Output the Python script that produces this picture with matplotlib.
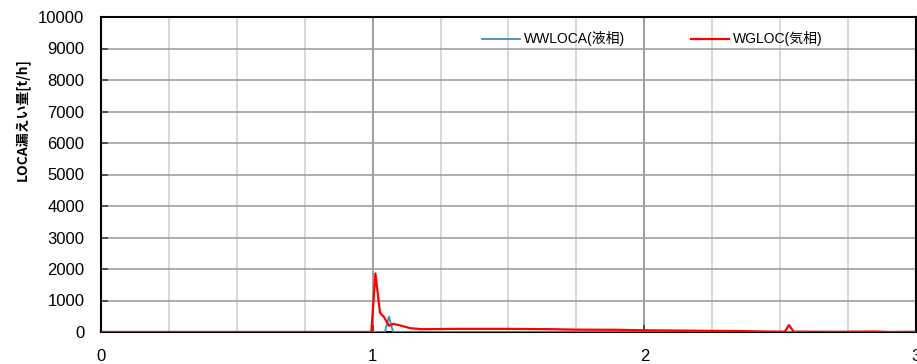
import matplotlib
matplotlib.use('Agg')
import matplotlib.pyplot as plt
from matplotlib.ticker import MultipleLocator

# --- 漏えい量データ [t/h] ---
t_gas = [0.0, 0.995, 1.01, 1.027, 1.042, 1.06, 1.076, 1.10, 1.14, 1.18, 1.30,
         1.50, 1.65, 1.75, 1.90, 2.00, 2.20, 2.35, 2.45, 2.517, 2.532, 2.55,
         2.70, 2.85, 2.90, 3.00]
w_gas = [0, 0, 1860, 610, 470, 200, 260, 210, 120, 90, 100,
         100, 90, 75, 70, 55, 40, 30, 15, 10, 220, 10,
         5, 15, 0, 5]

t_liq = [0.0, 1.045, 1.06, 1.075, 3.0]
w_liq = [0, 0, 490, 0, 0]

x_ticks = [0, 1, 2, 3]
y_max = 10000

plt.rcParams['font.family'] = ['Liberation Sans', 'Noto Sans CJK JP', 'DejaVu Sans']

fig = plt.figure(figsize=(9.17, 3.64), dpi=100)
ax = fig.add_axes([101 / 917, 1 - 332 / 364, 815 / 917, 315 / 364])

ax.plot(t_liq, w_liq, color='#3d8fb5', lw=1.3, label='WWLOCA(液相)', zorder=3)
ax.plot(t_gas, w_gas, color='#ff0000', lw=1.6, label='WGLOC(気相)', zorder=4)

ax.set_xlim(0, 3)
ax.set_ylim(0, y_max)
ax.set_xticks(x_ticks)
ax.xaxis.set_minor_locator(MultipleLocator(0.25))
ax.yaxis.set_major_locator(MultipleLocator(1000))

# 目盛線
ax.grid(True, which='major', axis='y', color='#a0a0a0', lw=1.2, zorder=1)
ax.grid(True, which='minor', axis='x', color='#d2d2d2', lw=1.2, zorder=1)
ax.grid(True, which='major', axis='x', color='#8c8c8c', lw=1.2, zorder=1)

ax.tick_params(axis='both', which='major', direction='in', length=5,
               width=1.2, color='#404040', labelsize=12, pad=12)
ax.tick_params(axis='x', which='minor', length=0)
for spine in ax.spines.values():
    spine.set_edgecolor('black')
    spine.set_linewidth(1.5)

ax.set_ylabel('LOCA漏えい量[t/h]', fontsize=10, fontweight='bold',
              family=['Noto Sans CJK JP', 'DejaVu Sans'], va='center')
ax.yaxis.set_label_coords(-0.096, 0.673)

ax.legend(loc='center left', bbox_to_anchor=(482 / 917, 1 - 39 / 364),
          bbox_transform=fig.transFigure, ncol=2, frameon=False,
          fontsize=10, handlelength=2.7, handletextpad=0.3,
          columnspacing=4.8, borderpad=0, borderaxespad=0)

fig.savefig('out.png', dpi=100)
